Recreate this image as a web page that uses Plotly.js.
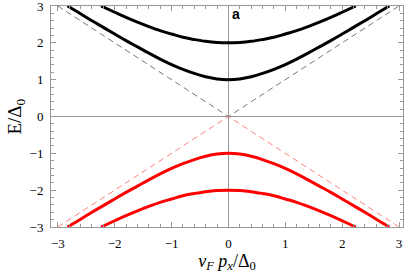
<!DOCTYPE html>
<html><head><meta charset="utf-8">
<script src="https://cdn.plot.ly/plotly-3.0.1.min.js"></script>
<style>body{margin:0;background:#fff}#c{width:407px;height:278px}</style>
</head><body><div id="c"></div>
<script>
// momentum values (v_F p_x / Delta_0)
var pInner = [-2.83,-2.6,-2.4,-2.2,-2.0,-1.8,-1.6,-1.4,-1.2,-1.0,-0.8,-0.6,-0.4,-0.2,0,0.2,0.4,0.6,0.8,1.0,1.2,1.4,1.6,1.8,2.0,2.2,2.4,2.6,2.83];
var eUpperInner = [3.0,2.79,2.6,2.42,2.24,2.06,1.89,1.72,1.56,1.41,1.28,1.17,1.08,1.02,1.0,1.02,1.08,1.17,1.28,1.41,1.56,1.72,1.89,2.06,2.24,2.42,2.6,2.79,3.0];
var eLowerInner = [-3.0,-2.79,-2.6,-2.42,-2.24,-2.06,-1.89,-1.72,-1.56,-1.41,-1.28,-1.17,-1.08,-1.02,-1.0,-1.02,-1.08,-1.17,-1.28,-1.41,-1.56,-1.72,-1.89,-2.06,-2.24,-2.42,-2.6,-2.79,-3.0];
var pOuter = [-2.24,-2.0,-1.8,-1.6,-1.4,-1.2,-1.0,-0.8,-0.6,-0.4,-0.2,0,0.2,0.4,0.6,0.8,1.0,1.2,1.4,1.6,1.8,2.0,2.24];
var eUpperOuter = [3.0,2.83,2.69,2.56,2.44,2.33,2.24,2.15,2.09,2.04,2.01,2.0,2.01,2.04,2.09,2.15,2.24,2.33,2.44,2.56,2.69,2.83,3.0];
var eLowerOuter = [-3.0,-2.83,-2.69,-2.56,-2.44,-2.33,-2.24,-2.15,-2.09,-2.04,-2.01,-2.0,-2.01,-2.04,-2.09,-2.15,-2.24,-2.33,-2.44,-2.56,-2.69,-2.83,-3.0];
var pAsym = [-3,0,3];
var eAsymUpper = [3,0,3];
var eAsymLower = [-3,0,-3];
var tickVals = [-3,-2,-1,0,1,2,3];
var tickText = ['\u22123','\u22122','\u22121','0','1','2','3'];

var serif = 'Liberation Serif';
var traces = [
  {x:pAsym,y:eAsymUpper,mode:'lines',line:{color:'#555',width:0.8,dash:'6px,4px'},hoverinfo:'none'},
  {x:pAsym,y:eAsymLower,mode:'lines',line:{color:'#ff6060',width:0.8,dash:'6px,4px'},hoverinfo:'none'},
  {x:pInner,y:eUpperInner,mode:'lines',line:{color:'#000',width:3,shape:'spline'}},
  {x:pOuter,y:eUpperOuter,mode:'lines',line:{color:'#000',width:3,shape:'spline'}},
  {x:pInner,y:eLowerInner,mode:'lines',line:{color:'#ff0000',width:3,shape:'spline'}},
  {x:pOuter,y:eLowerOuter,mode:'lines',line:{color:'#ff0000',width:3,shape:'spline'}}
];
function axisCommon() { return {
  showgrid:false, zeroline:true, zerolinecolor:'#999', zerolinewidth:1,
  showline:true, linecolor:'#999', linewidth:1, mirror:'ticks',
  ticks:'inside', ticklen:5, tickcolor:'#999', tickwidth:1,
  tickvals:tickVals, ticktext:tickText, ticklabelstandoff:4, ticklabeloverflow:'allow',
  minor:{ticks:'inside', ticklen:3, tickcolor:'#999', dtick:0.2, tick0:0, showgrid:false},
  tickfont:{family:serif, size:13, color:'#000'}
};}
var layout = {
  width:407, height:278, showlegend:false,
  margin:{l:51, r:4, t:6, b:51},
  paper_bgcolor:'#fff', plot_bgcolor:'#fff',
  font:{family:serif},
  xaxis:Object.assign(axisCommon(), {range:[-3.12,3.07],
    title:{text:'<i>v<sub>F</sub> p<sub>x</sub></i>/Δ<sub>0</sub>', font:{family:serif, size:18, color:'#000'}, standoff:3}}),
  yaxis:Object.assign(axisCommon(), {range:[-3,3]}),
  annotations:[
    {x:0.03, y:2.78, xref:'x', yref:'y', text:'<b>a</b>', showarrow:false, xanchor:'left', yanchor:'middle',
     font:{family:'Liberation Sans', size:14, color:'#000'}},
    {x:-0.102, y:0.5, xref:'paper', yref:'paper', text:'E/Δ<sub>0</sub>', showarrow:false, textangle:-90,
     xanchor:'center', yanchor:'middle', font:{family:serif, size:19, color:'#000'}}
  ]
};
Plotly.newPlot('c', traces, layout, {staticPlot:true, displayModeBar:false});
</script></body></html>
